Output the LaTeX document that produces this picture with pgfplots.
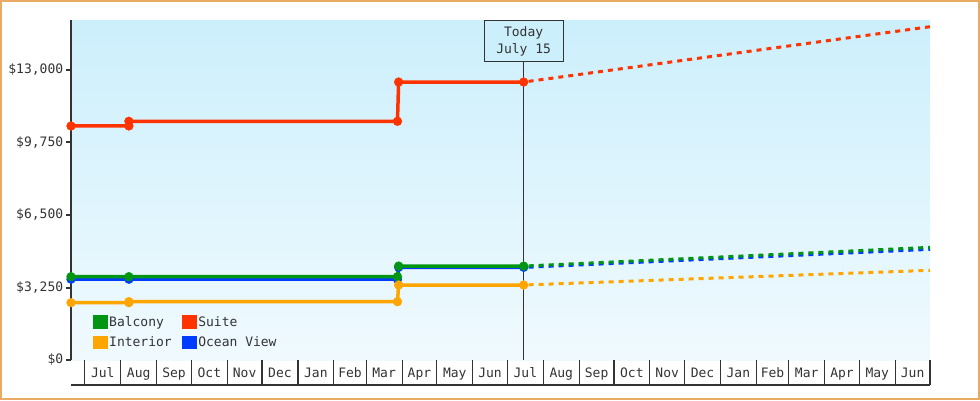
\documentclass[border=0pt]{standalone}
\usepackage{pgfplots}
\pgfplotsset{compat=1.18}
\usepackage{fontspec}
\setmainfont{DejaVu Sans Mono}
\definecolor{cgreen}{RGB}{0,150,20}
\definecolor{cred}{RGB}{255,51,0}
\definecolor{corange}{RGB}{255,165,0}
\definecolor{cblue}{RGB}{0,60,255}
\definecolor{cdark}{RGB}{51,51,51}
\definecolor{bgtop}{RGB}{204,239,252}
\definecolor{bgbot}{RGB}{240,250,254}
\definecolor{cframe}{RGB}{235,170,100}
\begin{document}
\begin{tikzpicture}[x=1pt,y=1pt]
\useasboundingbox (0,0) rectangle (980,400);
\draw[cframe, line width=2pt] (1,1) rectangle (979,399);
\begin{axis}[
  at={(71pt,40pt)}, anchor=south west,
  scale only axis, width=859pt, height=340pt,
  xmin=-12, xmax=730, ymin=0, ymax=15241,
  clip=false,
  scaled y ticks=false,
  axis background/.style={top color=bgtop, bottom color=bgbot},
  axis x line*=bottom, axis y line*=left,
  x axis line style={draw=none},
  y axis line style={draw=cdark, line width=2pt},
  tick align=outside,
  xtick={0,31,62,92,123,153,184,215,243,274,304,335,365,396,427,457,488,518,549,580,608,639,669,700,730},
  xticklabels={Jul,Aug,Sep,Oct,Nov,Dec,Jan,Feb,Mar,Apr,May,Jun,Jul,Aug,Sep,Oct,Nov,Dec,Jan,Feb,Mar,Apr,May,Jun},
  x tick label as interval,
  xtick style={draw=cdark, line width=1.2pt, /pgfplots/major tick length=25pt},
  ytick={0,3250,6500,9750,13000},
  yticklabels={{\$0},{\$3,250},{\$6,500},{\$9,750},{\$13,000}},
  ytick style={draw=cdark, line width=2pt, /pgfplots/major tick length=5pt},
  minor tick num=0,
  tick label style={font=\fontsize{13}{15}\selectfont, text=cdark},
  legend columns=2,
  legend cell align=left,
  legend style={draw=none, fill=none, at={(0.0256,0.135)}, anchor=north west,
    font=\fontsize{13}{15}\selectfont, text=cdark, inner sep=0pt,
    nodes={inner xsep=1.5pt, inner ysep=2pt},
    /tikz/every even column/.append style={column sep=9pt}, row sep=5pt},
  legend image code/.code={\fill (0pt,-5pt) rectangle (11pt,5pt);},
  every axis plot/.append style={line width=3.5pt, mark size=4.4pt, mark options={solid, line width=0.4pt}},
]
\draw[cdark, line width=1pt] (axis cs:379,0) -- (axis cs:379,15241);
% forecasts
\addplot[cblue, no marks, line width=3pt, dash pattern=on 5pt off 5pt, dash phase=5pt, forget plot] coordinates {(379,4150) (730,4960)};
\addplot[cgreen, no marks, line width=3pt, dash pattern=on 5pt off 5pt, dash phase=5pt, forget plot] coordinates {(379,4210) (730,5050)};
\addplot[corange, no marks, line width=3pt, dash pattern=on 5pt off 5pt, dash phase=5pt, forget plot] coordinates {(379,3362) (730,4020)};
\addplot[cred, no marks, line width=3pt, dash pattern=on 5pt off 5pt, dash phase=5pt, forget plot] coordinates {(379,12460) (730,14940)};
% history
\addplot[cblue, mark=*, forget plot] coordinates {(-12,3620) (38,3620) (270,3620) (271,4155) (379,4155)};
\addplot[cgreen, mark=*, forget plot] coordinates {(-12,3735) (38,3735) (270,3735) (271,4210) (379,4210)};
\addplot[corange, mark=*, forget plot] coordinates {(-12,2570) (38,2570) (38,2614) (270,2614) (271,3362) (379,3362)};
\addplot[cred, mark=*, forget plot] coordinates {(-12,10490) (38,10490) (38,10700) (270,10700) (271,12460) (379,12460)};
\addlegendimage{cgreen}\addlegendentry{Balcony}
\addlegendimage{cred}\addlegendentry{Suite}
\addlegendimage{corange}\addlegendentry{Interior}
\addlegendimage{cblue}\addlegendentry{Ocean View}
\node[draw=cdark, fill=bgtop, line width=1pt, minimum width=79pt, minimum height=41pt,
  align=center, font=\fontsize{13}{17}\selectfont, text=cdark, anchor=north, inner sep=0pt]
  at (axis cs:379,15241) {Today\\July 15};
\draw[cdark, line width=1.5pt] ([yshift=-25pt]rel axis cs:0,0) -- ([yshift=-25pt]rel axis cs:1,0);
\end{axis}
\end{tikzpicture}
\end{document}
